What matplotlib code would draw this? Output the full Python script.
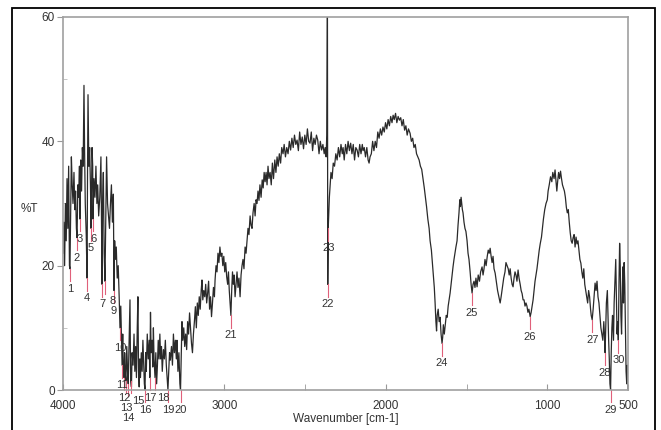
import matplotlib.pyplot as plt
from matplotlib.patches import Rectangle

# ИК-спектр: волновое число (см-1) и пропускание (%T)
wavenumber = [
    4000, 3995, 3990, 3985, 3980, 3975, 3970, 3965, 3960, 3957, 3952, 3948, 3943, 3938, 3932, 3927,
    3922, 3917, 3913, 3908, 3903, 3898, 3895, 3890, 3885, 3880, 3875, 3870, 3866, 3862, 3856, 3851,
    3848, 3845, 3840, 3835, 3830, 3826, 3820, 3816, 3814, 3808, 3802, 3796, 3790, 3785, 3779, 3772,
    3765, 3760, 3758, 3755, 3750, 3745, 3740, 3735, 3730, 3724, 3718, 3712, 3706, 3700, 3694, 3688,
    3684, 3680, 3676, 3670, 3664, 3658, 3652, 3647, 3642, 3637, 3634, 3630, 3626, 3622, 3618, 3614,
    3610, 3605, 3600, 3596, 3590, 3585, 3581, 3576, 3572, 3566, 3560, 3555, 3550, 3545, 3540, 3536,
    3532, 3528, 3524, 3520, 3515, 3510, 3505, 3500, 3496, 3492, 3488, 3484, 3478, 3472, 3466, 3462,
    3458, 3454, 3448, 3444, 3440, 3436, 3430, 3425, 3420, 3415, 3410, 3405, 3400, 3395, 3390, 3385,
    3378, 3372, 3366, 3360, 3355, 3350, 3345, 3340, 3335, 3328, 3322, 3316, 3310, 3304, 3298, 3294,
    3288, 3282, 3276, 3272, 3268, 3263, 3258, 3252, 3246, 3240, 3234, 3228, 3222, 3216, 3210, 3204,
    3198, 3192, 3186, 3180, 3174, 3168, 3162, 3156, 3150, 3144, 3139, 3134, 3128, 3122, 3116, 3110,
    3104, 3098, 3092, 3086, 3080, 3074, 3068, 3062, 3058, 3052, 3046, 3040, 3034, 3028, 3022, 3016,
    3010, 3004, 2998, 2992, 2986, 2980, 2975, 2970, 2965, 2960, 2955, 2950, 2945, 2940, 2934, 2928,
    2922, 2916, 2910, 2903, 2897, 2891, 2885, 2879, 2872, 2866, 2860, 2854, 2848, 2841, 2835, 2829,
    2823, 2816, 2810, 2804, 2798, 2792, 2786, 2780, 2773, 2766, 2760, 2754, 2748, 2742, 2736, 2730,
    2724, 2717, 2710, 2703, 2696, 2688, 2681, 2674, 2667, 2660, 2652, 2645, 2637, 2630, 2622, 2614,
    2606, 2598, 2590, 2582, 2574, 2566, 2558, 2550, 2542, 2534, 2526, 2518, 2510, 2502, 2494, 2486,
    2478, 2470, 2462, 2454, 2446, 2438, 2430, 2422, 2414, 2406, 2398, 2390, 2382, 2376, 2370, 2366,
    2362, 2360, 2357, 2354, 2350, 2345, 2340, 2333, 2326, 2318, 2310, 2302, 2294, 2286, 2278, 2270,
    2265, 2258, 2250, 2242, 2234, 2226, 2218, 2210, 2202, 2194, 2186, 2178, 2170, 2162, 2154, 2146,
    2141, 2134, 2126, 2118, 2110, 2104, 2098, 2090, 2082, 2074, 2066, 2058, 2050, 2042, 2034, 2026,
    2018, 2010, 2002, 1994, 1986, 1978, 1970, 1962, 1955, 1948, 1940, 1932, 1924, 1916, 1908, 1900,
    1892, 1884, 1876, 1868, 1860, 1850, 1842, 1834, 1826, 1818, 1810, 1802, 1794, 1786, 1778, 1770,
    1762, 1755, 1748, 1740, 1732, 1726, 1718, 1712, 1706, 1700, 1695, 1690, 1686, 1682, 1676, 1670,
    1664, 1658, 1652, 1648, 1644, 1638, 1632, 1626, 1620, 1614, 1608, 1602, 1596, 1590, 1584, 1578,
    1572, 1566, 1559, 1553, 1547, 1542, 1538, 1534, 1530, 1526, 1522, 1516, 1510, 1504, 1497, 1491,
    1485, 1478, 1472, 1466, 1460, 1454, 1448, 1442, 1435, 1428, 1420, 1413, 1404, 1398, 1392, 1386,
    1379, 1372, 1366, 1360, 1354, 1348, 1342, 1336, 1330, 1323, 1316, 1308, 1300, 1292, 1286, 1278,
    1270, 1262, 1256, 1249, 1242, 1236, 1230, 1224, 1218, 1212, 1206, 1200, 1194, 1188, 1181, 1175,
    1168, 1162, 1156, 1150, 1144, 1138, 1132, 1126, 1120, 1114, 1106, 1100, 1094, 1088, 1082, 1076,
    1070, 1064, 1057, 1050, 1044, 1036, 1030, 1024, 1016, 1008, 1000, 995, 988, 980, 972, 966,
    958, 952, 946, 941, 936, 930, 924, 918, 912, 906, 900, 894, 888, 882, 876, 870,
    864, 858, 852, 846, 840, 834, 828, 822, 816, 810, 804, 798, 792, 786, 780, 774,
    768, 762, 756, 750, 744, 738, 732, 728, 722, 716, 710, 704, 698, 692, 686, 680,
    674, 668, 662, 656, 650, 646, 642, 638, 634, 628, 624, 620, 616, 612, 608, 604,
    600, 596, 590, 586, 580, 576, 572, 568, 564, 560, 556, 552, 548, 544, 540, 536,
    532, 528, 524, 520, 516, 512, 508, 504, 500,
]
transmittance = [
    22, 27, 20, 30, 24, 34, 26, 36, 20, 19.5, 30, 37.5, 33, 30, 35, 29,
    32, 26, 24.5, 33, 31, 36, 27.5, 37, 32, 39, 36, 49, 38, 30, 25, 18,
    35, 47.5, 36, 39, 33, 26, 39, 36, 27.5, 34, 31, 36, 30, 33, 28, 31,
    37.5, 24, 17, 30, 35, 22, 17.5, 28, 37.5, 30, 28, 26, 30, 33, 27, 31.5,
    16, 24, 21, 23, 18, 20, 15, 10, 13.5, 8, 4, 9, 3, 2, 6, 2.5,
    1.5, 7, 3, 1, 8, 14.5, 1.5, 0.5, 6, 4, 9, 3, 7, 2, 10, 15,
    3, 0.5, 5, 2, 6, 3, 8, 4, 1, 0, 6, 3, 9, 5, 8, 2,
    12.5, 6, 8, 3.7, 10, 5, 2, 6, 1, 4, 8, 5, 9, 5, 7, 3,
    6.5, 5, 8, 4, 2, 0, 3, 6, 4.8, 7, 4, 9, 6, 8, 5, 8,
    3, 6, 1, 0, 5, 11, 8, 10, 7, 9, 6.5, 11, 9, 12.4, 10, 7.5,
    6, 9, 11, 13.4, 10, 14, 12, 15, 13, 16, 17.7, 14.5, 16, 15, 17, 14,
    15.6, 17.5, 13, 15, 11.8, 14, 16.5, 15, 17.7, 20, 19, 22, 20.5, 23, 21.5, 22,
    20, 21.5, 19, 20.5, 18.2, 17, 19, 16, 14, 12, 16, 19, 17, 18.5, 15, 17,
    19, 16.5, 18, 15, 18.5, 20, 21, 19.5, 23, 22, 24, 26, 25, 28, 26.5, 26,
    28.5, 30, 28, 30.6, 30, 32, 30.5, 33, 31, 33.8, 32.5, 35, 33.5, 35, 33, 36,
    34, 35, 33, 36.5, 34, 37, 35, 37.5, 36, 38, 36.5, 39, 38, 39.5, 37.5, 39,
    38, 40, 38.6, 40.5, 39, 41, 39.5, 40.2, 38.5, 41.5, 39.5, 40.7, 38.8, 41, 39.5, 42,
    40, 39.7, 41.5, 38.5, 40.5, 39.5, 41, 40.2, 38, 40, 38.6, 39.5, 38, 39, 37.5, 41,
    62, 17, 26, 28, 31, 33, 35, 34, 36.5, 36, 38, 37, 39, 37.5, 39.5, 38,
    39, 37, 39.5, 38, 40, 38.5, 39.7, 38, 39.5, 37, 39, 38.6, 37.5, 39.5, 38, 39.5,
    38.5, 39, 37.5, 39, 37, 36.5, 37.5, 38, 40, 38.5, 40, 39, 41.5, 40.5, 42, 41,
    42.3, 41.5, 43, 42, 43.5, 42.5, 44, 43, 44.2, 43.5, 44.5, 43, 44, 43.4, 43.8, 42.5,
    43.5, 41.8, 42.5, 41, 42, 41.3, 40, 40.5, 39, 39.5, 38, 37.5, 37, 36, 35.5, 34,
    32.5, 31, 29.5, 27.5, 26, 24, 22.5, 20.5, 18.5, 16.5, 14, 11, 9.5, 12, 13, 11,
    11.7, 9, 7.5, 8.5, 10.5, 9, 10.5, 12, 11.7, 13.5, 14.5, 15.6, 17, 18.5, 19.8, 21,
    22, 23, 24, 26.5, 28.5, 30.6, 29.5, 31, 30, 29, 28.5, 27, 26, 25.5, 24, 22,
    21, 19, 17, 15.6, 17, 17.5, 16.5, 18, 16.6, 18.5, 17.5, 19, 19.8, 18.5, 19.5, 21,
    20, 21.5, 22.5, 22, 22.8, 21.5, 20.5, 21.5, 19.5, 18.8, 17.5, 16, 15, 14, 15, 16.5,
    18, 19, 20.5, 20, 19.5, 18.5, 19.5, 18, 17, 16.6, 18, 19, 18.5, 17.5, 19.3, 18,
    17, 16, 15.5, 14.5, 14.5, 13.5, 14, 13.5, 12.5, 13, 11.8, 12.5, 13.5, 14.5, 16, 17.5,
    18.5, 19.5, 21, 22.5, 23.5, 24.6, 26, 27.5, 29, 30, 30.6, 32, 33, 34.3, 33.5, 35,
    34, 35.4, 33.5, 32, 33.5, 35, 34, 35.2, 34, 33, 32.5, 32, 31, 29.4, 28.5, 29,
    27, 25.3, 24, 23.6, 24.5, 25, 23, 24.6, 23.5, 24, 22.5, 21, 20.4, 19, 18, 19.5,
    17, 16, 15, 14, 16, 15, 13, 12, 11.3, 13, 15, 17.2, 16, 17.5, 15, 14,
    12, 10, 9, 8, 11, 9, 6, 10, 14, 16, 12, 8, 5, 1, 0, 6,
    10, 12, 8, 14, 18, 21, 15, 9, 11, 8, 17, 23.6, 20, 12, 9, 15,
    19.8, 14, 20.5, 17, 10, 3, 1, 4, 0,
]

# Отмеченные пики (номер = порядковый индекс)
peak_wn = [3957, 3913, 3895, 3851, 3826, 3814, 3758, 3740, 3684, 3647,
           3634, 3622, 3610, 3596, 3581, 3492, 3462, 3430, 3350, 3272,
           2960, 2360, 2357, 1652, 1466, 1106, 722, 642, 608, 560]
peak_t = [19.5, 24.5, 27.5, 18, 26, 27.5, 17, 17.5, 16, 10,
          4, 2, 1.5, 1, 1.5, 0, 2, 2, 0, 0,
          12, 17, 26, 7.5, 15.6, 11.8, 11.3, 6, 0, 8]

x_ticks = [4000, 3000, 2000, 1000, 500]
y_ticks = [0, 20, 40, 60]


def place_labels(ax):
    # номера пиков раскладываются так, чтобы не налезали друг на друга (в пикселях)
    shifts = [(0, 0), (0, 7), (8, 0), (-8, 0), (8, 7), (-8, 7), (0, 14), (8, 14), (-8, 14)]
    placed = []
    for i, (w, t) in enumerate(zip(peak_wn, peak_t), start=1):
        ax.plot([w, w], [t, t - 2.0], color='#e0607a', linewidth=0.8, clip_on=False)
        px, py = ax.transData.transform((w, t))
        half_w = 2.6 * len(str(i))
        dx, dy = shifts[0]
        for dx, dy in shifts:
            cx, cy = px + dx, py - 20 - dy
            if all(abs(cx - qx) > half_w + qw or abs(cy - qy) > 8 for qx, qy, qw in placed):
                break
        placed.append((px + dx, py - 20 - dy, half_w))
        ax.annotate(str(i), xy=(w, t), xytext=(dx * 0.72, -(20 + dy) * 0.72),
                    textcoords='offset points', fontsize=8, color='#333333',
                    ha='center', va='center', annotation_clip=False)


def plot_spectrum():
    plt.rcParams['font.family'] = ['Liberation Sans', 'DejaVu Sans']
    fig = plt.figure(figsize=(6.61, 4.30), dpi=100)
    ax = fig.add_axes([0.0953, 0.0930, 0.8548, 0.8675])

    # рамка вокруг всего графика
    fig.patches.append(Rectangle((0.018, -0.02), 0.973, 1.001, transform=fig.transFigure,
                                 fill=False, edgecolor='black', linewidth=1.3))

    ax.plot(wavenumber, transmittance, color='#2a2a2a', linewidth=0.9)

    ax.set_xlim(4000, 500)
    ax.set_ylim(0, 60)
    ax.set_xticks(x_ticks)
    ax.set_xticks([3500, 2500, 1500], minor=True)
    ax.set_yticks(y_ticks)
    ax.set_yticks([10, 30, 50], minor=True)
    ax.tick_params(axis='x', which='both', direction='in', length=4, color='#999999',
                   labelsize=8.5, labelcolor='#333333', pad=7)
    ax.tick_params(axis='y', which='major', direction='out', length=4, color='#999999',
                   labelsize=8.5, labelcolor='#333333', pad=2)
    ax.tick_params(axis='y', which='minor', direction='in', length=3, color='#bbbbbb')
    for s in ax.spines.values():
        s.set_color('#a0a0a0')
        s.set_linewidth(1.2)

    place_labels(ax)

    ax.set_xlabel('Wavenumber [cm-1]', fontsize=8.5, color='#333333', labelpad=1)
    ax.set_ylabel('%T', fontsize=8.5, color='#333333', rotation=0, labelpad=14)
    ax.yaxis.set_label_coords(-0.06, 0.47)

    fig.savefig('out.png', dpi=100)


if __name__ == "__main__":
    plot_spectrum()
